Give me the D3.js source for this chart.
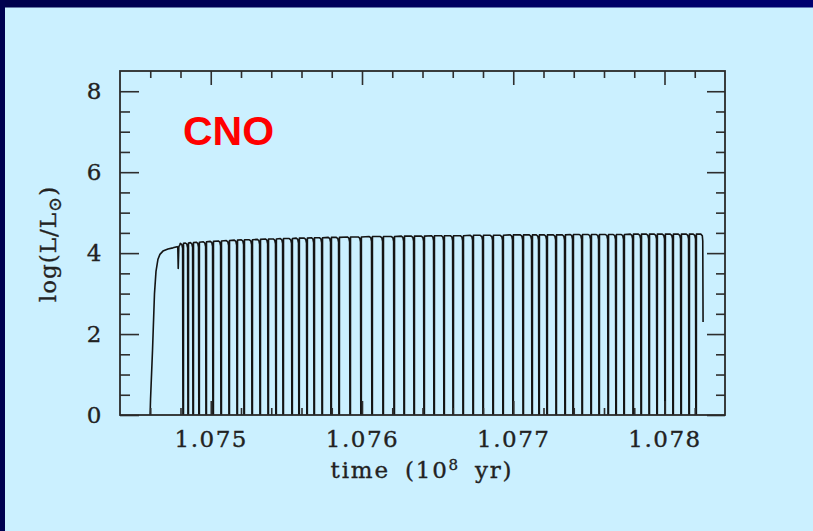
<!DOCTYPE html>
<html>
<head>
<meta charset="utf-8">
<script src="https://cdn.jsdelivr.net/npm/d3@7"></script>
<style>
  html, body { margin: 0; padding: 0; background: #cbf0ff; }
  svg { display: block; }
  .axis .tick line { stroke: #2e2e2e; stroke-width: 1.6px; }
  .axis .tick text { font-family: "DejaVu Serif", serif; font-size: 23px; fill: #222; stroke: #222; stroke-width: 0.35px; letter-spacing: 1.5px; }
  .axis .domain { display: none; }
</style>
</head>
<body>
<svg id="chart" width="813" height="531"></svg>
<script>
// Hydrogen-burning (CNO) luminosity through the thermal-pulse phase.
// Time in units of 10^8 yr, luminosity as log(L/Lsun).

// Ignition of the shell and early plateau
const riseTimes  = [1.074595, 1.074602, 1.074615, 1.074628, 1.074638, 1.074651, 1.074664,
                    1.074684, 1.074717, 1.074750, 1.074777, 1.074782, 1.074785, 1.074789, 1.074795];
const riseLevels = [-0.5, 0.4, 1.6, 3.0, 3.55, 3.85, 3.97,
                    4.05, 4.10, 4.13, 4.16, 4.15, 3.62, 4.16, 4.20];

// Times of the pulses (each one shuts the H shell down) and plateau level just before each
const pulseTimes = [
  1.074817, 1.074850, 1.074883, 1.074922, 1.074969, 1.075015, 1.075068, 1.075121,
  1.075174, 1.075220, 1.075273, 1.075326, 1.075379, 1.075431, 1.075478, 1.075537,
  1.075583, 1.075636, 1.075683, 1.075736, 1.075795, 1.075848,
  1.075921, 1.075993, 1.076066, 1.076139, 1.076212, 1.076278, 1.076344, 1.076410,
  1.076476, 1.076542, 1.076602, 1.076668, 1.076734, 1.076800, 1.076866, 1.076932,
  1.076998, 1.077065, 1.077124,
  1.077170, 1.077223, 1.077283, 1.077342, 1.077395, 1.077455, 1.077514, 1.077567,
  1.077627, 1.077679, 1.077732, 1.077792, 1.077845, 1.077898, 1.077950, 1.078003,
  1.078056, 1.078109, 1.078162, 1.078208
];
const pulseTops = [
  4.24, 4.25, 4.26, 4.27, 4.28, 4.29, 4.30, 4.31,
  4.32, 4.33, 4.33, 4.34, 4.35, 4.35, 4.36, 4.36,
  4.37, 4.37, 4.38, 4.38, 4.39, 4.39,
  4.40, 4.40, 4.41, 4.41, 4.41, 4.42, 4.42, 4.42,
  4.43, 4.43, 4.43, 4.43, 4.44, 4.44, 4.44, 4.44,
  4.45, 4.45, 4.45,
  4.45, 4.45, 4.45, 4.45, 4.46, 4.46, 4.46, 4.46,
  4.46, 4.46, 4.46, 4.47, 4.47, 4.47, 4.47, 4.47,
  4.47, 4.47, 4.47, 4.47
];

// Shape of a single pulse: time offset from the pulse and drop below the plateau (dex)
const shapeOffsets = [-0.000018, -0.000008, -0.000003, 0.0, 0.0000025, 0.000003];
const shapeDrops   = [0.0, 0.03, 0.12, 6.0, 6.0, 0.0];

// Last computed models
const endTimes  = [1.078240, 1.078250, 1.078253, 1.078255];
const endLevels = [4.47, 4.43, 4.30, 2.30];

// Axis ticks
const xMajorTicks = [1.075, 1.076, 1.077, 1.078];
const xMinorTicks = [1.0746, 1.0748, 1.0752, 1.0754, 1.0756, 1.0758, 1.0762, 1.0764,
                     1.0766, 1.0768, 1.0772, 1.0774, 1.0776, 1.0778, 1.0782];
const yMajorTicks = [0, 2, 4, 6, 8];
const yMinorTicks = [0.5, 1, 1.5, 2.5, 3, 3.5, 4.5, 5, 5.5, 6.5, 7, 7.5];

const W = 813, H = 531;
const plot = { left: 120, right: 725, top: 71, bottom: 415 };

const svg = d3.select("#chart");

// Slide background with its dark edge
const defs = svg.append("defs");
const grad = defs.append("linearGradient").attr("id", "edge").attr("x1", "0").attr("x2", "1");
grad.append("stop").attr("offset", "0").attr("stop-color", "#00004c");
grad.append("stop").attr("offset", "1").attr("stop-color", "#000070");
svg.append("rect").attr("width", W).attr("height", H).attr("fill", "#cbf0ff");
svg.append("rect").attr("x", 0).attr("y", 0).attr("width", W).attr("height", 7.5).attr("fill", "url(#edge)");
svg.append("rect").attr("x", 0).attr("y", 0).attr("width", 5).attr("height", H).attr("fill", "#000050");

const x = d3.scaleLinear().domain([1.0744, 1.0784]).range([plot.left, plot.right]);
const y = d3.scaleLinear().domain([0, 8.5]).range([plot.bottom, plot.top]);

defs.append("clipPath").attr("id", "plotClip")
  .append("rect")
  .attr("x", plot.left).attr("y", plot.top)
  .attr("width", plot.right - plot.left).attr("height", plot.bottom - plot.top);

// Assemble the light curve
const pts = riseTimes.map((t, i) => [t, riseLevels[i]]);
pulseTimes.forEach((tp, i) => {
  shapeOffsets.forEach((dt, k) => pts.push([tp + dt, pulseTops[i] - shapeDrops[k]]));
});
endTimes.forEach((t, i) => pts.push([t, endLevels[i]]));

const line = d3.line().x(d => x(d[0])).y(d => y(d[1]));
svg.append("path")
  .datum(pts)
  .attr("clip-path", "url(#plotClip)")
  .attr("fill", "none")
  .attr("stroke", "#141414")
  .attr("stroke-width", 1.6)
  .attr("stroke-linejoin", "round")
  .attr("d", line);

// Axes: ticks point inward on all four sides
function addAxis(axis, tx, ty) {
  return svg.append("g").attr("class", "axis").attr("transform", `translate(${tx},${ty})`).call(axis);
}
addAxis(d3.axisBottom(x).tickValues(xMajorTicks).tickSize(-14).tickPadding(16).tickFormat(d3.format(".3f")), 0, plot.bottom);
addAxis(d3.axisBottom(x).tickValues(xMinorTicks).tickSize(-7).tickFormat(""), 0, plot.bottom);
addAxis(d3.axisTop(x).tickValues(xMajorTicks).tickSize(-14).tickFormat(""), 0, plot.top);
addAxis(d3.axisTop(x).tickValues(xMinorTicks).tickSize(-7).tickFormat(""), 0, plot.top);
addAxis(d3.axisLeft(y).tickValues(yMajorTicks).tickSize(-19).tickPadding(17).tickFormat(d3.format("d")), plot.left, 0);
addAxis(d3.axisLeft(y).tickValues(yMinorTicks).tickSize(-10).tickFormat(""), plot.left, 0);
addAxis(d3.axisRight(y).tickValues(yMajorTicks).tickSize(-18).tickFormat(""), plot.right, 0);
addAxis(d3.axisRight(y).tickValues(yMinorTicks).tickSize(-9).tickFormat(""), plot.right, 0);

// Frame
svg.append("rect")
  .attr("x", plot.left).attr("y", plot.top)
  .attr("width", plot.right - plot.left).attr("height", plot.bottom - plot.top)
  .attr("fill", "none").attr("stroke", "#2a2a2a").attr("stroke-width", 1.8);

// Axis titles
const xt = svg.append("text")
  .attr("x", 422).attr("y", 478)
  .attr("text-anchor", "middle")
  .style("font-family", "'DejaVu Serif', serif").style("font-size", "23px")
  .style("letter-spacing", "1.8px").style("word-spacing", "6px")
  .attr("fill", "#222").attr("stroke", "#222").attr("stroke-width", 0.35);
xt.append("tspan").text("time (10");
xt.append("tspan").attr("dy", -8).style("font-size", "15px").text("8");
xt.append("tspan").attr("dy", 8).text(" yr)");

const yt = svg.append("text")
  .attr("transform", "translate(56,244) rotate(-90)")
  .attr("text-anchor", "middle")
  .style("font-family", "'DejaVu Serif', serif").style("font-size", "23px")
  .style("letter-spacing", "1px")
  .attr("fill", "#222").attr("stroke", "#222").attr("stroke-width", 0.35);
yt.append("tspan").text("log(L/L");
yt.append("tspan").attr("dy", 5).style("font-size", "18px").text("\u2299");
yt.append("tspan").attr("dy", -5).text(")");

// Burning label
svg.append("text")
  .attr("x", 183).attr("y", 145)
  .style("font-family", "'Liberation Sans', Arial, sans-serif")
  .style("font-weight", "bold").style("font-size", "41px")
  .attr("fill", "#ff0000")
  .text("CNO");
</script>
</body>
</html>
